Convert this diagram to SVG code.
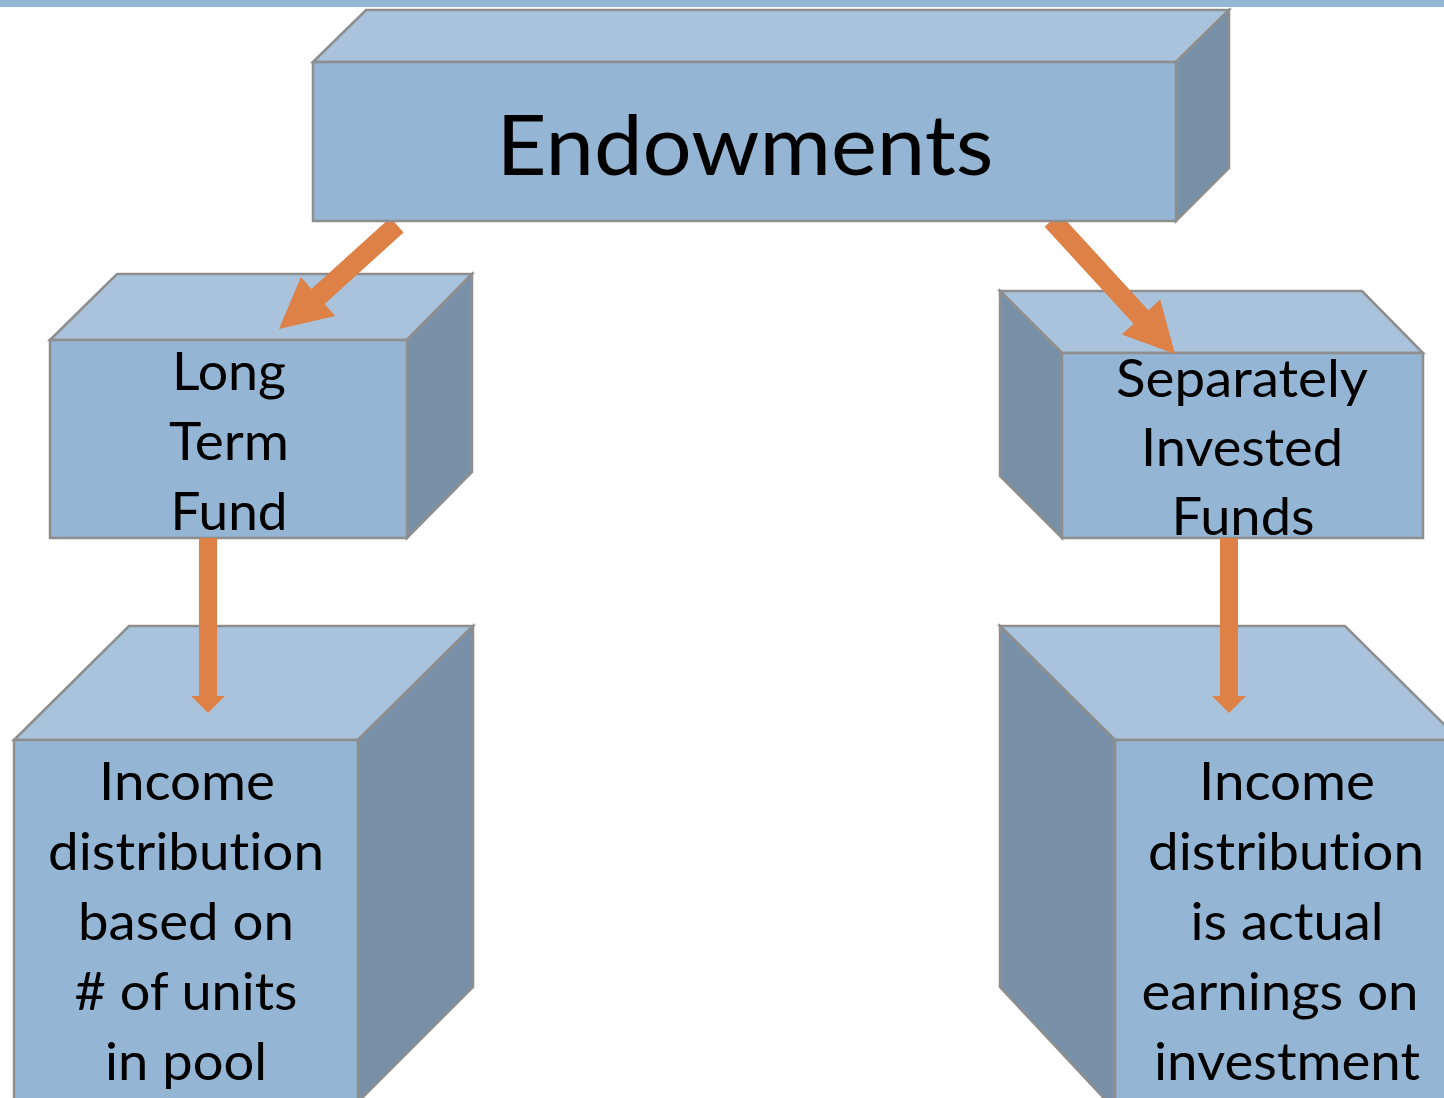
<svg xmlns="http://www.w3.org/2000/svg" width="1444" height="1098" viewBox="0 0 1444 1098">
<style>
.front{fill:#94B5D3;stroke:#8E8E8E;stroke-width:2.5;stroke-linejoin:miter}
.top{fill:#A9C3DC;stroke:#8E8E8E;stroke-width:2.5}
.side{fill:#7891A9;stroke:#8E8E8E;stroke-width:2.5}
.lbl{font-family:Lato,"Open Sans","Noto Sans",sans-serif;font-size:53px;fill:#000;text-anchor:middle;font-variant-ligatures:none}
.big{font-family:Lato,"Open Sans","Noto Sans",sans-serif;font-size:84px;fill:#000;text-anchor:middle;font-variant-ligatures:none}
.arr{fill:#DE8146}
</style>
<rect x="0" y="0" width="1444" height="7" fill="#94B6D3"/>

<g id="long-term-fund">
<polygon class="top" points="50,340 117,274 472,274 407,340"/>
<polygon class="side" points="407,340 472,274 472,472 407,538"/>
<rect class="front" x="50" y="340" width="357" height="198"/>
<text class="lbl" x="229" y="390" textLength="114" lengthAdjust="spacingAndGlyphs">Long</text>
<text class="lbl" x="229" y="460" textLength="120" lengthAdjust="spacingAndGlyphs">Term</text>
<text class="lbl" x="229" y="530" textLength="117" lengthAdjust="spacingAndGlyphs">Fund</text>
</g>

<g id="separately-invested-funds">
<polygon class="top" points="1000,291 1362,291 1423,353 1062,353"/>
<polygon class="side" points="1000,291 1062,353 1062,538 1000,476"/>
<rect class="front" x="1062" y="353" width="361" height="185"/>
<text class="lbl" x="1242" y="397" textLength="252" lengthAdjust="spacingAndGlyphs">Separately</text>
<text class="lbl" x="1242" y="466" textLength="202" lengthAdjust="spacingAndGlyphs">Invested</text>
<text class="lbl" x="1243" y="535" textLength="143" lengthAdjust="spacingAndGlyphs">Funds</text>
</g>

<g id="pool-distribution">
<polygon class="top" points="14,740 129,626 473,626 358,740"/>
<polygon class="side" points="358,740 473,626 473,987 358,1102"/>
<rect class="front" x="14" y="740" width="344" height="370"/>
<text class="lbl" x="187" y="800" textLength="176" lengthAdjust="spacingAndGlyphs">Income</text>
<text class="lbl" x="186" y="870" textLength="276" lengthAdjust="spacingAndGlyphs">distribution</text>
<text class="lbl" x="186" y="940" textLength="216" lengthAdjust="spacingAndGlyphs">based on</text>
<text class="lbl" x="186" y="1010" textLength="223" lengthAdjust="spacingAndGlyphs">&#35; of units</text>
<text class="lbl" x="186" y="1080" textLength="162" lengthAdjust="spacingAndGlyphs">in pool</text>
</g>

<g id="actual-earnings">
<polygon class="top" points="1000,626 1345,626 1460,740 1115,740"/>
<polygon class="side" points="1000,626 1115,740 1115,1110 1000,987"/>
<rect class="front" x="1115" y="740" width="345" height="370"/>
<text class="lbl" x="1287" y="800" textLength="176" lengthAdjust="spacingAndGlyphs">Income</text>
<text class="lbl" x="1286" y="870" textLength="276" lengthAdjust="spacingAndGlyphs">distribution</text>
<text class="lbl" x="1287" y="940" textLength="193" lengthAdjust="spacingAndGlyphs">is actual</text>
<text class="lbl" x="1280" y="1010" textLength="277" lengthAdjust="spacingAndGlyphs">earnings on</text>
<text class="lbl" x="1287" y="1080" textLength="266" lengthAdjust="spacingAndGlyphs">investment</text>
</g>

<g id="connectors">
<polygon class="arr" points="390.4,217.5 403.6,232.5 324.6,304 335.1,316.1 279,329 300.9,276.9 311.4,289"/>
<polygon class="arr" points="1044.6,226.8 1059.4,213.2 1148.4,310.2 1160.2,299.4 1175,354 1121.8,334.6 1133.6,323.8"/>
<polygon class="arr" points="199,538 217,538 217,696 225,696 208,713 191,696 199,696"/>
<polygon class="arr" points="1220,538 1238,538 1238,696 1246,696 1229,713 1212,696 1220,696"/>
</g>

<g id="endowments">
<polygon class="top" points="313,62 366,10 1229,10 1176,62"/>
<polygon class="side" points="1176,62 1229,10 1229,168 1176,221"/>
<rect class="front" x="313" y="62" width="863" height="159"/>
<text class="big" x="745" y="175" textLength="497" lengthAdjust="spacingAndGlyphs">Endowments</text>
</g>
</svg>
